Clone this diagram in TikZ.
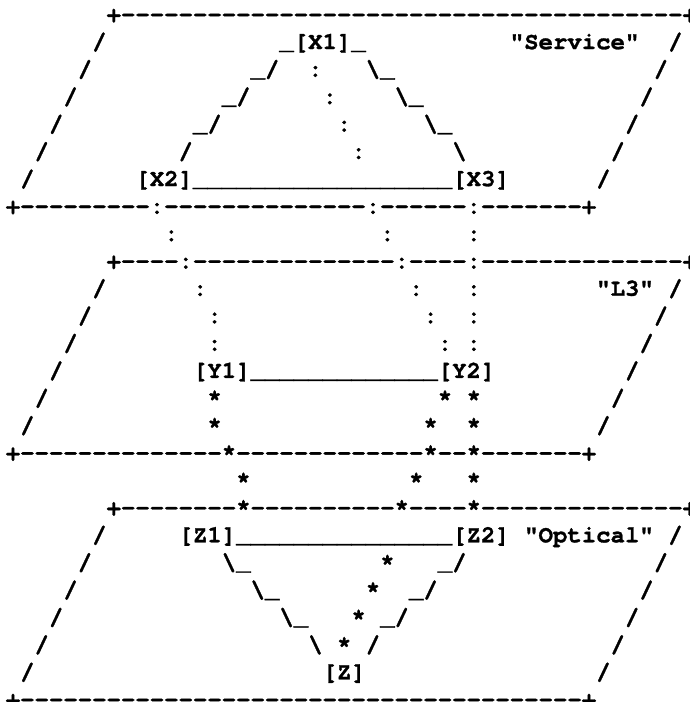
\documentclass[tikz,border=0pt]{standalone}
\usepackage{fontspec}
\setmonofont{TeX Gyre Cursor}[BoldFeatures={FakeBold=1.2}]
\ExplSyntaxOn
\NewDocumentCommand\asdash{m}{\prg_replicate:nn{#1}{-}}
\NewDocumentCommand\asus{m}{\prg_replicate:nn{#1}{\_}}
\ExplSyntaxOff
\newcommand\bs{\textbackslash}
\tikzset{asc/.style={anchor=base west,inner sep=0pt,outer sep=0pt,
  font=\ttfamily\bfseries\fontsize{24pt}{27pt}\selectfont}}
\newcommand\asat[3]{\node[asc] (r#1c#2) at ({5.8pt+#2*14.4pt},{-21.7pt-#1*27.4pt}) {#3};}
\begin{document}
\begin{tikzpicture}
\fill[white] (0,0) rectangle (690pt,-702pt);
\useasboundingbox (0,0) rectangle (690pt,-702pt);
% Service layer
\asat{0}{7}{+\asdash{39}+}
\asat{1}{6}{/}\asat{1}{19}{\_[X1]\_}\asat{1}{35}{"Service"}\asat{1}{46}{/}
\asat{2}{5}{/}\asat{2}{17}{\_/}\asat{2}{21}{:}\asat{2}{25}{\bs\_}\asat{2}{45}{/}
\asat{3}{4}{/}\asat{3}{15}{\_/}\asat{3}{22}{:}\asat{3}{27}{\bs\_}\asat{3}{44}{/}
\asat{4}{3}{/}\asat{4}{13}{\_/}\asat{4}{23}{:}\asat{4}{29}{\bs\_}\asat{4}{43}{/}
\asat{5}{2}{/}\asat{5}{12}{/}\asat{5}{24}{:}\asat{5}{31}{\bs}\asat{5}{42}{/}
\asat{6}{1}{/}\asat{6}{9}{[X2]\asus{18}[X3]}\asat{6}{41}{/}
\asat{7}{0}{+\asdash{9}:\asdash{14}:\asdash{6}:\asdash{7}+}
\asat{8}{11}{:}\asat{8}{26}{:}\asat{8}{32}{:}
% L3 layer
\asat{9}{7}{+\asdash{4}:\asdash{14}:\asdash{4}:\asdash{14}+}
\asat{10}{6}{/}\asat{10}{13}{:}\asat{10}{28}{:}\asat{10}{32}{:}\asat{10}{41}{"L3"}\asat{10}{46}{/}
\asat{11}{5}{/}\asat{11}{14}{:}\asat{11}{29}{:}\asat{11}{32}{:}\asat{11}{45}{/}
\asat{12}{4}{/}\asat{12}{14}{:}\asat{12}{30}{:}\asat{12}{32}{:}\asat{12}{44}{/}
\asat{13}{3}{/}\asat{13}{13}{[Y1]\asus{13}[Y2]}\asat{13}{43}{/}
\asat{14}{2}{/}\asat{14}{14}{*}\asat{14}{30}{*}\asat{14}{32}{*}\asat{14}{42}{/}
\asat{15}{1}{/}\asat{15}{14}{*}\asat{15}{29}{*}\asat{15}{32}{*}\asat{15}{41}{/}
\asat{16}{0}{+\asdash{14}*\asdash{13}*\asdash{2}*\asdash{7}+}
\asat{17}{16}{*}\asat{17}{28}{*}\asat{17}{32}{*}
% Optical layer
\asat{18}{7}{+\asdash{8}*\asdash{10}*\asdash{4}*\asdash{14}+}
\asat{19}{6}{/}\asat{19}{12}{[Z1]\asus{15}[Z2]}\asat{19}{36}{"Optical"}\asat{19}{46}{/}
\asat{20}{5}{/}\asat{20}{15}{\bs\_}\asat{20}{26}{*}\asat{20}{30}{\_/}\asat{20}{45}{/}
\asat{21}{4}{/}\asat{21}{17}{\bs\_}\asat{21}{25}{*}\asat{21}{28}{\_/}\asat{21}{44}{/}
\asat{22}{3}{/}\asat{22}{19}{\bs\_}\asat{22}{24}{*}\asat{22}{26}{\_/}\asat{22}{43}{/}
\asat{23}{2}{/}\asat{23}{21}{\bs}\asat{23}{23}{*}\asat{23}{25}{/}\asat{23}{42}{/}
\asat{24}{1}{/}\asat{24}{22}{[Z]}\asat{24}{41}{/}
\asat{25}{0}{+\asdash{39}+}
\end{tikzpicture}
\end{document}
